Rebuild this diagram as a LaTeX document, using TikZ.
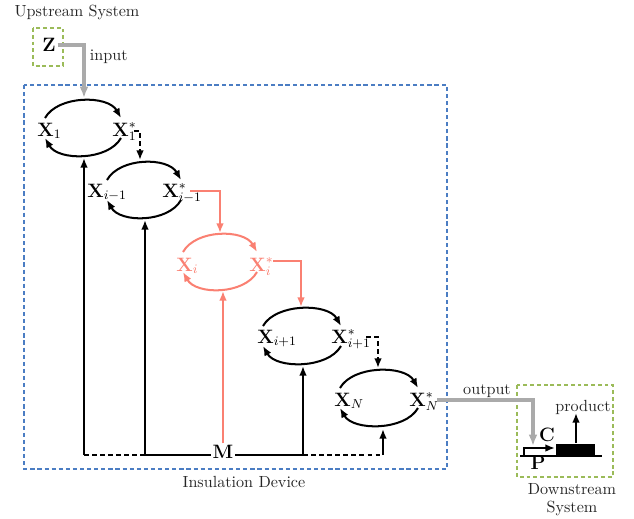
\documentclass[tikz,border=0pt]{standalone}
\usepackage{amsmath}
\usetikzlibrary{arrows.meta}
\definecolor{salm}{RGB}{250,128,114}
\definecolor{grn}{RGB}{155,187,89}
\definecolor{blu}{RGB}{75,125,195}
\definecolor{gry}{RGB}{170,170,170}
\begin{document}
\begin{tikzpicture}[x=0.62pt,y=-0.62pt,
  xl/.style={inner sep=0pt, anchor=base west, font=\large},
  ml/.style={inner sep=1pt, font=\large},
  lbl/.style={inner sep=1pt, text=black!85},
  ln/.style={line width=1.25pt},
  tip/.style={-{Latex[length=6pt,width=4.8pt]}},
  dsh/.style={dash pattern=on 3pt off 2pt},
  gline/.style={line width=2pt, draw=gry, -{Latex[length=7pt,width=5.5pt]}},
  bluebox/.style={draw=blu, line width=1.7pt, dash pattern=on 2.6pt off 1.8pt},
  greenbox/.style={draw=grn, line width=1.7pt, dash pattern=on 2.4pt off 1.8pt}]
\useasboundingbox (0,0) rectangle (634,518);

% boxes
\draw[bluebox] (24,85) rectangle (447,469);
\draw[greenbox] (33,28) rectangle (63,66);
\draw[greenbox] (517,385) rectangle (613,477);
\node[lbl] (ups) at (77,12) {Upstream System};
\node[lbl] (ins) at (244,482) {Insulation Device};
\node[lbl] (dwn1) at (572,489) {Downstream};
\node[lbl] (dwn2) at (572,508) {System};

% nodes
\node[ml] (Z) at (49,45) {$\mathbf{Z}$};
\node[xl] (L1) at (37,136) {$\mathbf{X}_1$};
\node[xl] (R1) at (112,136) {$\mathbf{X}^*_1$};
\node[xl] (L2) at (87,197) {$\mathbf{X}_{i-1}$};
\node[xl] (R2) at (162,197) {$\mathbf{X}^*_{i-1}$};
\node[xl,text=salm] (L3) at (176,271) {$\mathbf{X}_i$};
\node[xl,text=salm] (R3) at (249,271) {$\mathbf{X}^*_i$};
\node[xl] (L4) at (257,343) {$\mathbf{X}_{i+1}$};
\node[xl] (R4) at (331,343) {$\mathbf{X}^*_{i+1}$};
\node[xl] (L5) at (334,406) {$\mathbf{X}_N$};
\node[xl] (R5) at (409,406) {$\mathbf{X}^*_N$};
\node[ml] (M) at (223,452) {$\mathbf{M}$};

% cycles
\foreach \cx/\cy/\w/\c in {83/128/38/black, 144/190/37/black, 220/262/37/salm, 302/336/39/black, 379/398/39/black} {
  \draw[ln,tip,\c] (\cx-\w,\cy-10) .. controls (\cx-\w+13,\cy-33) and (\cx+\w-13,\cy-33) .. (\cx+\w,\cy-10);
  \draw[ln,tip,\c] (\cx+\w,\cy+10) .. controls (\cx+\w-13,\cy+33) and (\cx-\w+13,\cy+33) .. (\cx-\w,\cy+10);
}

% vertical lines from M
\coordinate (b1) at (84,455);
\coordinate (b2) at (145,455);
\coordinate (b4) at (303,455);
\coordinate (b5) at (383,455);
\draw[ln,tip] (b1) -- (84,158);
\draw[ln,tip] (b2) -- (145,220);
\draw[ln,tip,salm] (M.north) -- (223,291);
\draw[ln,tip] (b4) -- (303,366);
\draw[ln,dsh] (b1) -- (b2);
\draw[ln] (b2) -- (b2 -| M.west);
\draw[ln] (b4 -| M.east) -- (b4);
\draw[ln,dsh] (b4) -- (b5);
\draw[ln,tip] (b5) -- (383,429);

% links between cycles
\draw[gline] (Z.east) -| (84,98);
\node[lbl, anchor=west] (inp) at (88,57) {input};
\draw[ln,tip,dsh] (134,131) -| (140,160);
\draw[ln,tip,salm] (190,191) -| (220,233);
\draw[ln,tip,salm] (273,261) -| (301,307);
\draw[ln,tip,dsh] (366,337) -| (378,368);
\draw[gline] (437,400) -| (533,446);
\node[lbl] (out) at (487,391) {output};

% downstream gene
\draw[ln] (520,456) -- (602,456);
\draw[ln,tip] (524,456) -- (524,448) -- (555,448);
\fill (556,444) rectangle (595,456);
\draw[ln,tip] (576,443) -- (576,413);
\node[lbl] (prod) at (583,407) {product};
\node[ml] (C) at (547,435) {$\mathbf{C}$};
\node[ml] (P) at (538,463) {$\mathbf{P}$};
\end{tikzpicture}
\end{document}
